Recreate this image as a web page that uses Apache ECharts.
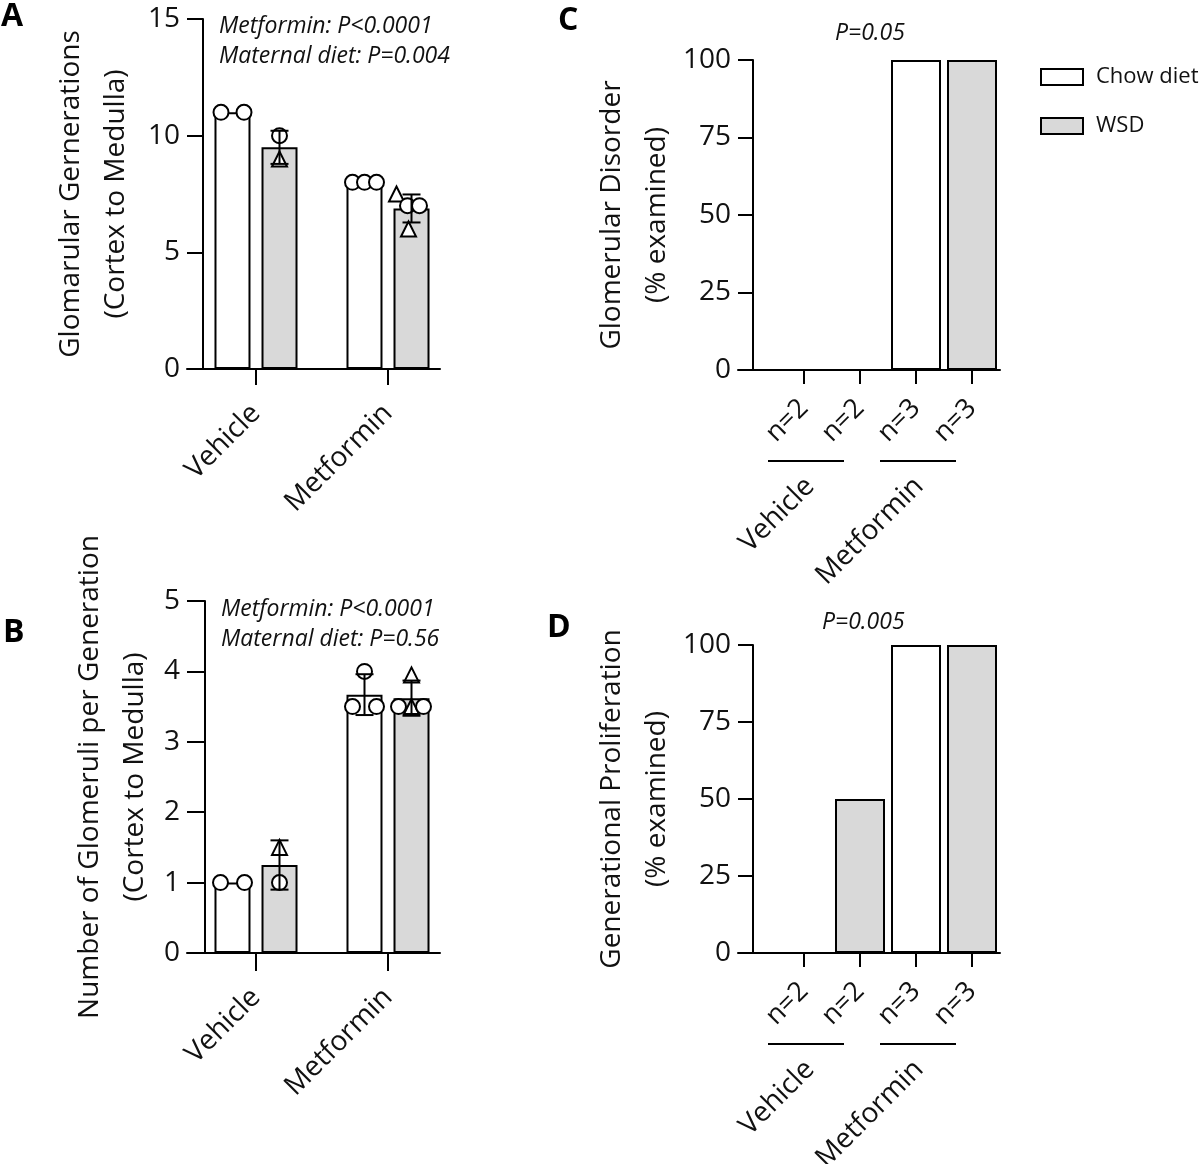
<!DOCTYPE html>
<html><head><meta charset="utf-8">
<script src="https://cdn.jsdelivr.net/npm/echarts@6/dist/echarts.min.js"></script>
<style>html,body{margin:0;padding:0;background:#fff}#c{width:1203px;height:1164px}</style>
</head><body><div id="c"></div>
<script>
// ================= DATA =================
const groupsAB = ['Vehicle', 'Metformin'];
const seriesNames = ['Chow diet', 'WSD'];

// Panel A – Glomerular generations (mean ± SD) and individual animals
const genChowMean = [11, 8];
const genChowSD = [0, 0];
const genWsdMean = [9.5, 6.88];
const genWsdSD = [0.71, 0.6];
const genChowPts = [[11, 11], [8, 8, 8]];
const genChowShape = [['circle', 'circle'], ['circle', 'circle', 'circle']];
const genWsdPts = [[10, 9], [7.5, 7, 7, 6]];
const genWsdShape = [['circle', 'triangle'], ['triangle', 'circle', 'circle', 'triangle']];
const yTicksA = [0, 5, 10, 15];
const statsA = ['Metformin: P<0.0001', 'Maternal diet: P=0.004'];

// Panel B – Glomeruli per generation
const glomChowMean = [1.0, 3.67];
const glomChowSD = [0, 0.29];
const glomWsdMean = [1.25, 3.62];
const glomWsdSD = [0.35, 0.25];
const glomChowPts = [[1, 1], [4, 3.5, 3.5]];
const glomChowShape = [['circle', 'circle'], ['circle', 'circle', 'circle']];
const glomWsdPts = [[1.5, 1.0], [3.95, 3.5, 3.5, 3.5]];
const glomWsdShape = [['triangle', 'circle'], ['triangle', 'circle', 'triangle', 'circle']];
const yTicksB = [0, 1, 2, 3, 4, 5];
const statsB = ['Metformin: P<0.0001', 'Maternal diet: P=0.56'];

// Panels C & D – % examined, columns: Vehicle-Chow, Vehicle-WSD, Metformin-Chow, Metformin-WSD
const nLabels = ['n=2', 'n=2', 'n=3', 'n=3'];
const groupsCD = ['Vehicle', 'Metformin'];
const disorderChow = [0, 100];
const disorderWsd = [0, 100];
const prolifChow = [0, 100];
const prolifWsd = [50, 100];
const yTicksCD = [0, 25, 50, 75, 100];
const statC = 'P=0.05';
const statD = 'P=0.005';

// ================= STYLE =================
const FONT = "'Open Sans', sans-serif";
const BLACK = '#000';
const TXT = '#111';
const GREY = '#d9d9d9';
const BAR_W_AB = 36, GAP_AB = 11;
const BAR_W_CD = 50;
const OFF_AB = (BAR_W_AB + GAP_AB) / 2;
const JIT_A_CHOW = [[-11.5, 11.5], [-12, 0, 12]];
const JIT_A_WSD = [[0, 0], [-15, -4, 8, -3]];
const JIT_B_CHOW = [[-12, 12], [0, -12, 12]];
const JIT_B_WSD = [[0, 0], [0, -13, 0, 12]];
const SYM = 15;
const FS = 28;

const chart = echarts.init(document.getElementById('c'), null, {renderer: 'canvas'});

const grids = [
  {left: 187, top: 19, width: 253, height: 350},
  {left: 187, top: 601, width: 253, height: 352},
  {left: 738, top: 60, width: 262, height: 310},
  {left: 738, top: 645, width: 262, height: 308}
].map(g => Object.assign({outerBoundsMode: 'none', containLabel: false}, g));

const XR_AB = [1 - 69 / 132, 1 - 69 / 132 + 253 / 132];
const XR_CD = [1 - 66 / 56, 1 - 66 / 56 + 262 / 56];

function xAxisCfg(gi, range, labels, tickLen, margin, fontSize) {
  const vals = labels.map((_, i) => i + 1);
  return {
    type: 'value', gridIndex: gi, min: range[0], max: range[1],
    axisLine: {show: true, onZero: false, lineStyle: {color: BLACK, width: 2}},
    axisTick: {show: true, length: tickLen, customValues: vals, lineStyle: {color: BLACK, width: 2}},
    axisLabel: {show: true, customValues: vals, rotate: 45, margin: margin, color: TXT,
      fontSize: fontSize, fontFamily: FONT, formatter: v => labels[Math.round(v) - 1] || ''},
    splitLine: {show: false}
  };
}
function yAxisCfg(gi, ticks, off, name, nameGap) {
  return {
    type: 'value', gridIndex: gi, min: ticks[0], max: ticks[ticks.length - 1],
    interval: ticks[1] - ticks[0], offset: -off,
    axisLine: {show: true, onZero: false, lineStyle: {color: BLACK, width: 2}},
    axisTick: {show: true, length: off, lineStyle: {color: BLACK, width: 2}},
    axisLabel: {color: TXT, fontSize: FS, fontFamily: FONT, margin: off + 7},
    splitLine: {show: false},
    name: name, nameLocation: 'middle', nameGap: nameGap,
    nameTextStyle: {color: TXT, fontSize: FS, fontFamily: FONT, lineHeight: 45}
  };
}

function barSeries(name, gi, data, fill, barWidth, barGap) {
  return {
    type: 'bar', name: name, xAxisIndex: gi, yAxisIndex: gi, data: data,
    barWidth: barWidth, barGap: barGap, z: 2, silent: true,
    itemStyle: {color: fill, borderColor: BLACK, borderWidth: 2}
  };
}
function pointSeries(name, gi, pts, shapes, jit, off) {
  const data = [];
  pts.forEach((arr, g) => arr.forEach((v, k) => {
    data.push({value: [g + 1, v], symbol: shapes[g][k], symbolOffset: [off + jit[g][k], 0]});
  }));
  return {
    type: 'scatter', name: name, xAxisIndex: gi, yAxisIndex: gi, data: data, z: 4, silent: true,
    symbolSize: SYM, itemStyle: {color: '#fff', borderColor: BLACK, borderWidth: 2, opacity: 1}
  };
}
function errSeries(gi, means, sds, off) {
  return {
    type: 'custom', xAxisIndex: gi, yAxisIndex: gi, z: 5, silent: true,
    data: means.map((m, i) => [i + 1, m, sds[i]]),
    renderItem: function (params, api) {
      const x = api.value(0), m = api.value(1), s = api.value(2);
      if (!s) return null;
      const t = api.coord([x, m + s]), b = api.coord([x, m - s]);
      const cx = t[0] + off, hw = 9;
      const st = {stroke: BLACK, lineWidth: 2};
      return {type: 'group', children: [
        {type: 'line', shape: {x1: cx, y1: t[1], x2: cx, y2: b[1]}, style: st},
        {type: 'line', shape: {x1: cx - hw, y1: t[1], x2: cx + hw, y2: t[1]}, style: st},
        {type: 'line', shape: {x1: cx - hw, y1: b[1], x2: cx + hw, y2: b[1]}, style: st}
      ]};
    }
  };
}
const toXY = (vals, start) => vals.map((v, i) => [start + 2 * i, v]);
const gapPct = (GAP_AB / BAR_W_AB * 100).toFixed(1) + '%';

const series = [
  // A
  barSeries(seriesNames[0], 0, genChowMean.map((v, i) => [i + 1, v]), '#fff', BAR_W_AB, gapPct),
  barSeries(seriesNames[1], 0, genWsdMean.map((v, i) => [i + 1, v]), GREY, BAR_W_AB, gapPct),
  pointSeries('ptsA1', 0, genChowPts, genChowShape, JIT_A_CHOW, -OFF_AB),
  pointSeries('ptsA2', 0, genWsdPts, genWsdShape, JIT_A_WSD, OFF_AB),
  errSeries(0, genChowMean, genChowSD, -OFF_AB),
  errSeries(0, genWsdMean, genWsdSD, OFF_AB),
  // B
  barSeries(seriesNames[0], 1, glomChowMean.map((v, i) => [i + 1, v]), '#fff', BAR_W_AB, gapPct),
  barSeries(seriesNames[1], 1, glomWsdMean.map((v, i) => [i + 1, v]), GREY, BAR_W_AB, gapPct),
  pointSeries('ptsB1', 1, glomChowPts, glomChowShape, JIT_B_CHOW, -OFF_AB),
  pointSeries('ptsB2', 1, glomWsdPts, glomWsdShape, JIT_B_WSD, OFF_AB),
  errSeries(1, glomChowMean, glomChowSD, -OFF_AB),
  errSeries(1, glomWsdMean, glomWsdSD, OFF_AB),
  // C
  barSeries(seriesNames[0], 2, toXY(disorderChow, 1), '#fff', BAR_W_CD, '-100%'),
  barSeries(seriesNames[1], 2, toXY(disorderWsd, 2), GREY, BAR_W_CD, '-100%'),
  // D
  barSeries(seriesNames[0], 3, toXY(prolifChow, 1), '#fff', BAR_W_CD, '-100%'),
  barSeries(seriesNames[1], 3, toXY(prolifWsd, 2), GREY, BAR_W_CD, '-100%')
];

function txt(text, x, y, font, fill) {
  return {type: 'text', x: x, y: y, silent: true,
    style: {text: text, fill: fill || TXT, font: font, textAlign: 'left', textVerticalAlign: 'top'}};
}
const italic = s => 'italic ' + s + 'px ' + FONT;
const bold = s => 'bold ' + s + 'px ' + FONT;

const graphic = [
  txt('A', 1, 1, bold(32), '#000'),
  txt('B', 3, 617, bold(32), '#000'),
  txt('C', 558, 5, bold(32), '#000'),
  txt('D', 547, 612, bold(32), '#000'),
  txt(statsA[0], 219, 15, italic(23)),
  txt(statsA[1], 219, 45, italic(23)),
  txt(statsB[0], 221, 598, italic(23)),
  txt(statsB[1], 221, 628, italic(23)),
  txt(statC, 835, 22, italic(23)),
  txt(statD, 822, 611, italic(23))
];

const option = {
  animation: false,
  backgroundColor: '#fff',
  grid: grids,
  xAxis: [
    xAxisCfg(0, XR_AB, groupsAB, 16, 40, FS),
    xAxisCfg(1, XR_AB, groupsAB, 18, 40, FS),
    xAxisCfg(2, XR_CD, nLabels, 14, 34, 27),
    xAxisCfg(3, XR_CD, nLabels, 14, 34, 27)
  ],
  yAxis: [
    yAxisCfg(0, yTicksA, 16, 'Glomarular Gernerations\n(Cortex to Medulla)', 64),
    yAxisCfg(1, yTicksB, 18, 'Number of Glomeruli per Generation\n(Cortex to Medulla)', 47),
    yAxisCfg(2, yTicksCD, 15, 'Glomerular Disorder\n(% examined)', 60),
    yAxisCfg(3, yTicksCD, 15, 'Generational Proliferation\n(% examined)', 62)
  ],
  legend: {
    data: seriesNames, orient: 'vertical', left: 1035, top: 60, icon: 'rect',
    itemWidth: 42, itemHeight: 16, itemGap: 25, selectedMode: false,
    textStyle: {color: TXT, fontSize: 22, fontFamily: FONT, lineHeight: 24, padding: [0, 0, 0, 8]}
  },
  series: series,
  graphic: graphic
};
chart.setOption(option);

// Group brackets and labels under panels C and D, placed through the axis scales
const extra = [];
[2, 3].forEach(gi => {
  groupsCD.forEach((g, k) => {
    const p = chart.convertToPixel({xAxisIndex: gi, yAxisIndex: gi}, [2 * k + 1.5, 0]);
    extra.push({type: 'line', silent: true, shape: {x1: p[0] - 64, y1: p[1] + 91, x2: p[0] + 12, y2: p[1] + 91},
      style: {stroke: BLACK, lineWidth: 2}});
    extra.push({type: 'text', silent: true, x: p[0] - 22 - 3 * k, y: p[1] + 112, rotation: Math.PI / 4,
      style: {text: g, fill: TXT, font: FS + 'px ' + FONT, textAlign: 'right', textVerticalAlign: 'middle'}});
  });
});
chart.setOption({graphic: graphic.concat(extra)});
</script></body></html>
